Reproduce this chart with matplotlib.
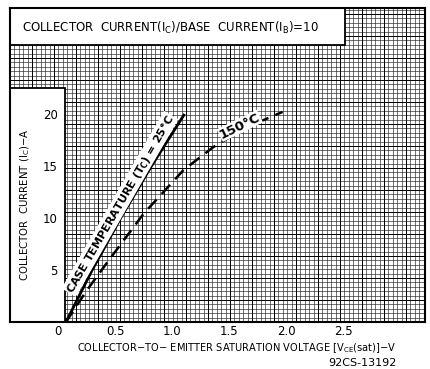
import numpy as np
import matplotlib
matplotlib.use("Agg")
import matplotlib.pyplot as plt
from matplotlib.patches import Rectangle

# curve data (V, A)
vce_25 = [0.07, 0.30, 0.55, 0.82, 1.11]
ic_25 = [0, 5, 10, 15, 20]

vce_150 = [0.07, 0.25, 0.45, 0.75, 1.10, 1.36, 1.65, 1.97]
ic_150 = [0, 3.0, 6.0, 10.4, 14.6, 16.8, 18.7, 20.2]

x_ticks = [0, 0.5, 1.0, 1.5, 2.0, 2.5]
x_labels = ["0", "0.5", "1.0", "1.5", "2.0", "2.5"]
y_ticks = [5, 10, 15, 20]
y_labels = ["5", "10", "15", "20"]

plt.rcParams['font.family'] = ['DejaVu Sans']

fig = plt.figure(figsize=(4.31, 3.69), dpi=100)
ax = fig.add_axes([10 / 431, 47 / 369, 415 / 431, 314 / 369])

xmin, xmax = -0.421, 3.219
ymin, ymax = 0, 30.19
ax.set_xlim(xmin, xmax)
ax.set_ylim(ymin, ymax)

# graph paper grid
xstep = 0.0386
ystep = 0.423
xs = xmin + np.arange(1, int((xmax - xmin) / xstep) + 1) * xstep
ys = ymin + np.arange(1, int((ymax - ymin) / ystep) + 1) * ystep
ax.vlines(xs, ymin, ymax, color='#222222', lw=0.45, zorder=0.5)
ax.hlines(ys, xmin, xmax, color='#222222', lw=0.45, zorder=0.5)
ax.vlines(xs[4::5], ymin, ymax, color='black', lw=0.7, zorder=0.6)
ax.hlines(ys[4::5], xmin, xmax, color='black', lw=0.7, zorder=0.6)

# white boxes for title and y label
ax.add_patch(Rectangle((0, 0.882), 0.807, 0.2, transform=ax.transAxes,
                       facecolor='white', edgecolor='black', lw=1.3, zorder=1.1))
ax.add_patch(Rectangle((-0.01, -0.01), 0.1425, 0.755, transform=ax.transAxes,
                       facecolor='white', edgecolor='black', lw=1.3, zorder=1.1))

# curves
ax.plot(vce_25, ic_25, color='black', lw=2.0, solid_capstyle='butt', zorder=3)
ax.plot(vce_150, ic_150, color='black', lw=1.8, dashes=(5, 3), zorder=3)

ax.text(0.60, 11.0, "CASE TEMPERATURE (T$_\\mathbf{C}$) = 25°C", rotation=60,
        rotation_mode='anchor', ha='center', va='bottom', fontsize=8,
        fontweight='bold', zorder=4,
        bbox=dict(facecolor='white', edgecolor='none', pad=0.6))
ax.text(1.62, 18.3, "150°C", rotation=26, rotation_mode='anchor',
        ha='center', va='bottom', fontsize=9.5, fontweight='bold', zorder=4,
        bbox=dict(facecolor='white', edgecolor='none', pad=0.4))

# ticks
ax.set_xticks(x_ticks)
ax.set_xticklabels(x_labels)
ax.set_yticks(y_ticks)
ax.set_yticklabels(y_labels)
ax.tick_params(axis='x', length=0, pad=2.5, labelsize=8.5)
ax.tick_params(axis='y', length=0, pad=-34.5, labelsize=8.5)

for s in ax.spines.values():
    s.set_linewidth(1.5)
    s.set_zorder(5)

ax.set_xlabel("COLLECTOR$-$TO$-$ EMITTER SATURATION VOLTAGE [V$_\\mathregular{CE}$(sat)]$-$V",
              fontsize=7.1)
ax.xaxis.set_label_coords(0.546, -0.062)
ax.set_ylabel("COLLECTOR  CURRENT (I$_\\mathregular{C}$)$-$A", fontsize=7.3)
ax.yaxis.set_label_coords(0.053, 0.373)

ax.text(0.029, 0.936, "COLLECTOR  CURRENT(I$_\\mathregular{C}$)/BASE  CURRENT(I$_\\mathregular{B}$)=10",
        transform=ax.transAxes, ha='left', va='center', fontsize=8.5, zorder=4)

fig.text(397 / 431, 6 / 369, "92CS-13192", ha='right', va='center', fontsize=8)

fig.savefig("out.png", dpi=100)
